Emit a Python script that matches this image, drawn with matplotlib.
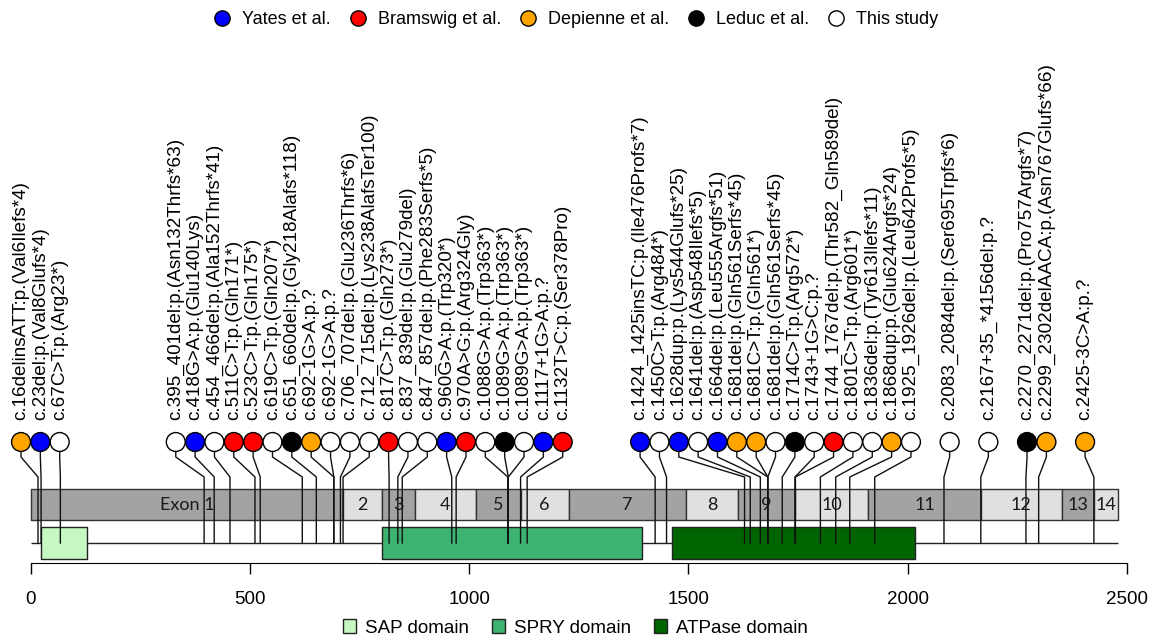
# lollipop plot of SMARCA2 variants along the cDNA
import matplotlib
matplotlib.use('Agg')
import matplotlib.pyplot as plt
from matplotlib.lines import Line2D
from matplotlib.patches import Patch
import numpy as np

# variants (cDNA position, label, source)
mut_pos = [16, 23, 67, 395, 418, 454, 511, 523, 619, 651, 691, 691, 706, 712,
           817, 837, 847, 960, 970, 1088, 1089, 1089, 1117, 1132, 1424, 1450,
           1628, 1641, 1664, 1681, 1681, 1681, 1714, 1743, 1744, 1801, 1836,
           1868, 1925, 2083, 2167, 2270, 2299, 2425]
mut_label = [
    'c.16delinsATT:p.(Val6Ilefs*4)', 'c.23del:p.(Val8Glufs*4)',
    'c.67C>T:p.(Arg23*)', 'c.395_401del:p.(Asn132Thrfs*63)',
    'c.418G>A:p.(Glu140Lys)', 'c.454_466del:p.(Ala152Thrfs*41)',
    'c.511C>T:p.(Gln171*)', 'c.523C>T:p.(Gln175*)', 'c.619C>T:p.(Gln207*)',
    'c.651_660del:p.(Gly218Alafs*118)', 'c.692-1G>A:p.?', 'c.692-1G>A:p.?',
    'c.706_707del:p.(Glu236Thrfs*6)', 'c.712_715del:p.(Lys238AlafsTer100)',
    'c.817C>T:p.(Gln273*)', 'c.837_839del:p.(Glu279del)',
    'c.847_857del:p.(Phe283Serfs*5)', 'c.960G>A:p.(Trp320*)',
    'c.970A>G:p.(Arg324Gly)', 'c.1088G>A:p.(Trp363*)', 'c.1089G>A:p.(Trp363*)',
    'c.1089G>A:p.(Trp363*)', 'c.1117+1G>A:p.?', 'c.1132T>C:p.(Ser378Pro)',
    'c.1424_1425insTC:p.(Ile476Profs*7)', 'c.1450C>T:p.(Arg484*)',
    'c.1628dup:p.(Lys544Glufs*25)', 'c.1641del:p.(Asp548Ilefs*5)',
    'c.1664del:p.(Leu555Argfs*51)', 'c.1681del:p.(Gln561Serfs*45)',
    'c.1681C>T:p.(Gln561*)', 'c.1681del:p.(Gln561Serfs*45)',
    'c.1714C>T:p.(Arg572*)', 'c.1743+1G>C:p.?',
    'c.1744_1767del:p.(Thr582_Gln589del)', 'c.1801C>T:p.(Arg601*)',
    'c.1836del:p.(Tyr613Ilefs*11)', 'c.1868dup:p.(Glu624Argfs*24)',
    'c.1925_1926del:p.(Leu642Profs*5)', 'c.2083_2084del:p.(Ser695Trpfs*6)',
    'c.2167+35_*4156del:p.?', 'c.2270_2271del:p.(Pro757Argfs*7)',
    'c.2299_2302delAACA:p.(Asn767Glufs*66)', 'c.2425-3C>A:p.?']
mut_src = ['Depienne', 'Yates', 'This', 'This', 'Yates', 'This', 'Bramswig',
           'Bramswig', 'This', 'Leduc', 'Depienne', 'This', 'This', 'This',
           'Bramswig', 'This', 'This', 'Yates', 'Bramswig', 'This', 'Leduc',
           'This', 'Yates', 'Bramswig', 'Yates', 'This', 'Yates', 'This',
           'Yates', 'Depienne', 'Depienne', 'This', 'Leduc', 'This',
           'Bramswig', 'This', 'This', 'Depienne', 'This', 'This', 'This',
           'Leduc', 'Depienne', 'Depienne']

sources = ['Yates', 'Bramswig', 'Depienne', 'Leduc', 'This']
source_names = ['Yates et al.', 'Bramswig et al.', 'Depienne et al.',
                'Leduc et al.', 'This study']
source_colors = ['#0000FF', '#FF0000', '#FFA500', '#000000', '#FFFFFF']

# exons
exon_names = ['Exon 1', '2', '3', '4', '5', '6', '7', '8', '9', '10', '11',
              '12', '13', '14']
exon_end = [712, 801, 876, 1015, 1117, 1227, 1494, 1613, 1743, 1910, 2167,
            2352, 2425, 2480]
exon_start = [0] + exon_end[:-1]

# domains
dom_names = ['SAP domain', 'SPRY domain', 'ATPase domain']
dom_start = [23, 801, 1462]
dom_end = [128, 1394, 2017]
dom_colors = ['#C6F9C2', '#3CB371', '#006400']

# layout (y in pixel-like units, top = 0)
y_head, y_knee1, y_knee2, y_line = 442, 457, 477, 543
y_label = 420
step = 44.14          # head spacing in cDNA units
head_lo, n_slots = -22.8, 56


def spread(pos, step, lo, nslots):
    # least squares placement on a slot grid (isotonic regression)
    n = len(pos)
    t = [(p - lo) / step - i for i, p in enumerate(pos)]
    blocks = []
    for v in t:
        blocks.append([v, 1])
        while len(blocks) > 1 and blocks[-2][0] / blocks[-2][1] > blocks[-1][0] / blocks[-1][1]:
            s, c = blocks.pop()
            blocks[-1][0] += s
            blocks[-1][1] += c
    fit = []
    for s, c in blocks:
        fit += [s / c] * c
    fit = np.clip(np.round(fit), 0, nslots - n)
    return lo + (fit + np.arange(n)) * step


heads = spread(mut_pos, step, head_lo, n_slots)

plt.rcParams['font.family'] = ['Liberation Sans', 'DejaVu Sans']
fig = plt.figure(figsize=(11.51, 6.40), dpi=100)
ax = fig.add_axes([0, 77 / 640, 1, 563 / 640])
ax.set_xlim(-70.7, 2555.3)
ax.set_ylim(563, 0)

# backbone
ax.hlines(y_line, exon_start[0], exon_end[-1], color='#222222', lw=1, zorder=1)

# exons
for i in range(len(exon_names)):
    fc = '#A3A3A3' if i % 2 == 0 else '#E0E0E0'
    ax.broken_barh([(exon_start[i], exon_end[i] - exon_start[i])], (489, 31),
                   facecolors=fc, edgecolors='#333333', lw=1, zorder=2)
    ax.text((exon_start[i] + exon_end[i]) / 2, 505, exon_names[i],
            ha='center', va='center', fontsize=13, family='Lato',
            color='#1a1a1a', zorder=3)

# domains
for i in range(len(dom_names)):
    ax.broken_barh([(dom_start[i], dom_end[i] - dom_start[i])], (527, 32),
                   facecolors=dom_colors[i], edgecolors='#222222', lw=1,
                   zorder=2)

# lollipops
for i in range(len(mut_pos)):
    ax.plot([heads[i], heads[i], mut_pos[i], mut_pos[i]],
            [y_head, y_knee1, y_knee2, y_line], color='#111111', lw=1,
            zorder=4)
    ax.text(heads[i], y_label, mut_label[i], rotation=90, ha='center',
            va='bottom', fontsize=13.6, zorder=5)
cols = [source_colors[sources.index(s)] for s in mut_src]
ax.scatter(heads, [y_head] * len(heads), s=185, c=cols, edgecolors='black',
           linewidths=1, zorder=6)

# axis
for sp in ['top', 'left', 'right']:
    ax.spines[sp].set_visible(False)
ax.spines['bottom'].set_bounds(0, 2500)
ax.set_xticks([0, 500, 1000, 1500, 2000, 2500])
ax.tick_params(axis='x', length=8, width=1, pad=12, labelsize=13.5)
ax.set_yticks([])

# legends
h_src = [Line2D([], [], marker='o', ls='none', markersize=11,
                markerfacecolor=c, markeredgecolor='black')
         for c in source_colors]
fig.legend(h_src, source_names, loc='center', bbox_to_anchor=(0.5, 1 - 20 / 640),
           ncol=5, frameon=False, fontsize=13, handlelength=1.0,
           handletextpad=0.6, columnspacing=1.0)
h_dom = [Patch(facecolor=c, edgecolor='#222222') for c in dom_colors]
fig.legend(h_dom, dom_names, loc='center', bbox_to_anchor=(0.5, 1 - 628 / 640),
           ncol=3, frameon=False, fontsize=13.5, handlelength=0.7,
           handleheight=0.7, handletextpad=0.5, columnspacing=1.2)

plt.savefig('out.png', dpi=100)
